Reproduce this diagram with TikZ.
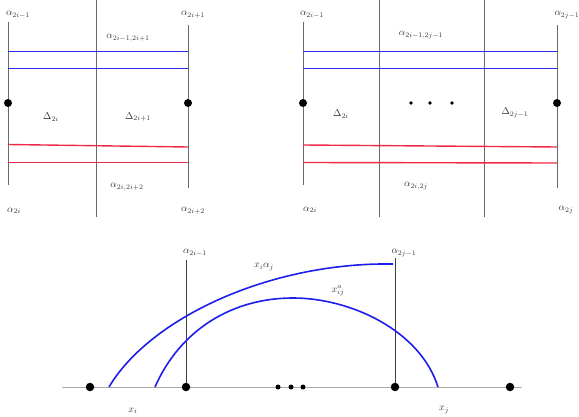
\documentclass[tikz,border=0pt]{standalone}
\usepackage{tikz}
\usepackage{xcolor}
\usetikzlibrary{positioning}
\definecolor{wallGray}{HTML}{6A6A6A}
\definecolor{axisGray}{HTML}{ABABAB}
\definecolor{bandBlue}{HTML}{2A2AF0}
\definecolor{bandRed}{HTML}{EE2A48}
\definecolor{arcBlue}{HTML}{1E1EEA}

\begin{document}
\begin{tikzpicture}[x=1pt,y=-1pt,
    lbl/.style={inner sep=0pt,text=black!80},
    bigdot/.style={circle,fill=black,inner sep=0pt,minimum size=8pt},
    smalldot/.style={circle,fill=black,inner sep=0pt,minimum size=3.6pt},
    wall/.style={draw=wallGray,line width=0.8pt},
    blueband/.style={draw=bandBlue,line width=1.4pt},
    redband/.style={draw=bandRed,line width=1.4pt},
    arc/.style={draw=arcBlue,line width=1.6pt}]
  \useasboundingbox (0,0) rectangle (579,417);

  % left square
  \node[bigdot] (pL1) at (8,103) {};
  \node[bigdot] (pR1) at (188,103) {};
  \coordinate (pL1t) at (8,22);   \coordinate (pL1b) at (8,185);
  \coordinate (pR1t) at (188,25); \coordinate (pR1b) at (188,188);
  \coordinate (mid1t) at (96,0);  \coordinate (mid1b) at (96,217);
  \draw[wall] (pL1t) -- (pL1) -- (pL1b);
  \draw[wall] (pR1t) -- (pR1) -- (pR1b);
  \draw[wall] (mid1t) -- (mid1b);
  \draw[blueband] (8,51.5) -- (188,51.5);
  \draw[blueband] (8,68.5) -- (188,68.5);
  \draw[redband] (8,144.5) -- (188,147);
  \draw[redband] (8,162.5) -- (188,162.5);
  \node[lbl] (aL1) at (18,15) {$\alpha_{2i-1}$};
  \node[lbl] (aR1) at (193,15) {$\alpha_{2i+1}$};
  \node[lbl] (aTop1) at (128,38) {$\alpha_{2i-1,2i+1}$};
  \node[lbl] (dL1) at (51,117) {$\Delta_{2i}$};
  \node[lbl] (dR1) at (138,117) {$\Delta_{2i+1}$};
  \node[lbl] (aBot1) at (127,187) {$\alpha_{2i,2i+2}$};
  \node[lbl] (aLb1) at (14,211) {$\alpha_{2i}$};
  \node[lbl] (aRb1) at (193,211) {$\alpha_{2i+2}$};

  % right square
  \node[bigdot] (pL2) at (303,103) {};
  \node[bigdot] (pR2) at (557,103) {};
  \coordinate (pL2t) at (303,22);  \coordinate (pL2b) at (303,185);
  \coordinate (pR2t) at (557,25);  \coordinate (pR2b) at (557,188);
  \coordinate (midA2t) at (379,0); \coordinate (midA2b) at (379,217);
  \coordinate (midB2t) at (484,0); \coordinate (midB2b) at (484,217);
  \draw[wall] (pL2t) -- (pL2) -- (pL2b);
  \draw[wall] (pR2t) -- (pR2) -- (pR2b);
  \draw[wall] (midA2t) -- (midA2b);
  \draw[wall] (midB2t) -- (midB2b);
  \draw[blueband] (303,51.5) -- (557,51.5);
  \draw[blueband] (303,68.5) -- (557,68.5);
  \draw[redband] (303,145) -- (557,147);
  \draw[redband] (303,162.5) -- (557,163);
  \node[smalldot] (dotA2) at (411,103) {};
  \node[smalldot,right=19pt of dotA2.center,anchor=center] (dotB2) {};
  \node[smalldot,right=22pt of dotB2.center,anchor=center] (dotC2) {};
  \node[lbl] (aL2) at (312,15) {$\alpha_{2i-1}$};
  \node[lbl] (aR2) at (567,15) {$\alpha_{2j-1}$};
  \node[lbl] (aTop2) at (421,35) {$\alpha_{2i-1,2j-1}$};
  \node[lbl] (dL2) at (341,114) {$\Delta_{2i}$};
  \node[lbl] (dR2) at (515,113) {$\Delta_{2j-1}$};
  \node[lbl] (aBot2) at (416,186) {$\alpha_{2i,2j}$};
  \node[lbl] (aLb2) at (310,210) {$\alpha_{2i}$};
  \node[lbl] (aRb2) at (566,210) {$\alpha_{2j}$};

  % bottom line with arcs
  \coordinate (axL) at (62,387); \coordinate (axR) at (522,387);
  \draw[draw=axisGray,line width=0.8pt] (axL) -- (axR);
  \coordinate (vAt) at (186,260); \coordinate (vBt) at (395,258);
  \node[bigdot,minimum size=8.5pt] (b0) at (90,387) {};
  \node[bigdot,minimum size=8.5pt] (bA) at (186,387) {};
  \node[bigdot,minimum size=8.5pt] (bB) at (395,387) {};
  \node[bigdot,minimum size=8.5pt] (b9) at (510,387) {};
  \node[smalldot,minimum size=5pt] (s1) at (278,387) {};
  \node[smalldot,minimum size=5pt] (s2) at (291,387) {};
  \node[smalldot,minimum size=5pt] (s3) at (303,387) {};
  \draw[wall,draw=black!75,line width=0.9pt] (vAt) -- (bA);
  \draw[wall,draw=black!75,line width=0.9pt] (vBt) -- (bB);
  \draw[arc] (109,387) .. controls (150,318) and (270,262) .. (393,264);
  \draw[arc] (155,387) .. controls (180,330) and (232,298) .. (293,298)
             .. controls (350,298) and (420,330) .. (438,387);
  \node[lbl] (vAl) at (195,253) {$\alpha_{2i-1}$};
  \node[lbl] (vBl) at (404,253) {$\alpha_{2j-1}$};
  \node[lbl] (xa) at (264,267) {$x_i\alpha_j$};
  \node[lbl] (xij) at (338,291) {$x^{a}_{ij}$};
  \node[lbl] (xi) at (133,411) {$x_i$};
  \node[lbl] (xj) at (444,410) {$x_j$};
\end{tikzpicture}
\end{document}
